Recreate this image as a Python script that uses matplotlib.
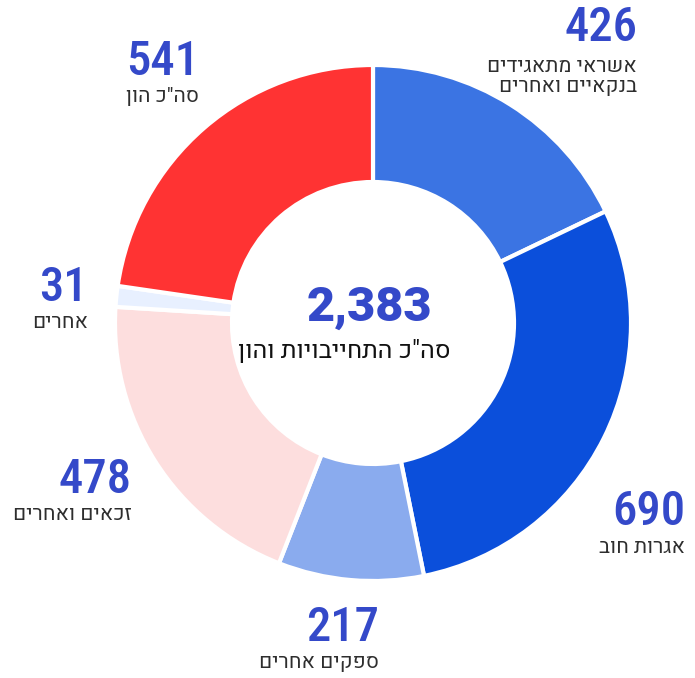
import matplotlib
matplotlib.use('Agg')
import matplotlib.pyplot as plt

# Balance sheet breakdown (NIS millions), clockwise from 12 o'clock
categories = ['אשראי מתאגידים\nבנקאיים ואחרים', 'אגרות חוב', 'ספקים אחרים',
              'זכאים ואחרים', 'אחרים', 'סה"כ הון']
values = [426, 690, 217, 478, 31, 541]
colors = ['#3b74e3', '#0b4fdb', '#8aabee', '#fddede', '#e8f0ff', '#ff3333']
total_label = 'סה"כ התחייבויות והון'

W, H = 695, 678
CX, CY = 373, 323          # donut centre, px from top-left
R_OUT, R_IN = 258, 141
NUM_COLOR = '#3449c9'
TXT_COLOR = '#2e2e2e'
HEB_FONT = ['Heebo', 'DejaVu Sans']

# right edge / vertical centre of each value label, px from top-left
label_anchor = [(637, 28), (685, 512), (379, 628), (132, 480), (88, 288), (199, 62)]


def rtl(s):
    # matplotlib has no bidi support: flip the string for display
    return s[::-1]


fig = plt.figure(figsize=(W / 100, H / 100), dpi=100)
ax = fig.add_axes([0, 0, 1, 1])

ax.pie(values, colors=colors, startangle=90, counterclock=False,
       radius=R_OUT, center=(CX, H - CY),
       wedgeprops=dict(width=R_OUT - R_IN, edgecolor='white', linewidth=3))

for (x, y), v, name in zip(label_anchor, values, categories):
    ax.text(x, H - y, f'{v}', ha='right', va='center', fontsize=35,
            family=['Roboto Condensed', 'DejaVu Sans'], weight='medium',
            color=NUM_COLOR)
    lines = name.split('\n')
    top = 38 if len(lines) > 1 else 35
    for i, line in enumerate(lines):
        ax.text(x, H - y - top - 21 * i, rtl(line), ha='right', va='center',
                fontsize=15, family=HEB_FONT, color=TXT_COLOR)

total = sum(values)
ax.text(CX - 4, H - 308, f'{total:,}', ha='center', va='center', fontsize=35,
        family=['Roboto', 'DejaVu Sans'], weight='black', color=NUM_COLOR)
ax.text(CX - 29, H - 351, rtl(total_label), ha='center', va='center', fontsize=18,
        family=HEB_FONT, color='#111111')

ax.set_xlim(0, W)
ax.set_ylim(0, H)
ax.set_aspect('equal')
ax.axis('off')

fig.savefig('out.png', dpi=100)
